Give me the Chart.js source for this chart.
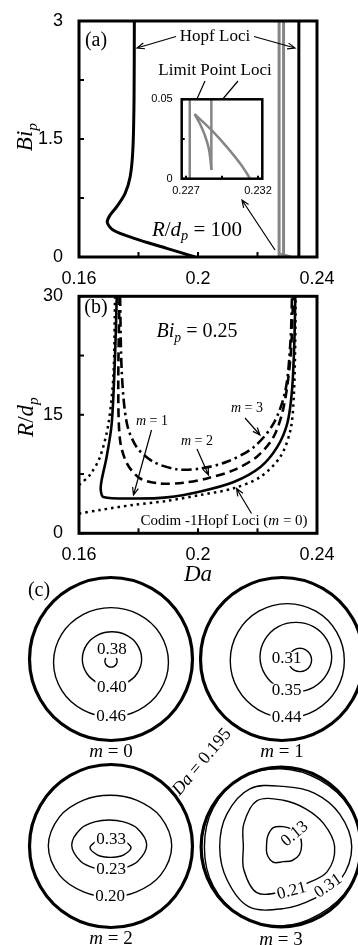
<!DOCTYPE html>
<html>
<head>
<meta charset="utf-8">
<script src="https://cdn.jsdelivr.net/npm/chart.js@4.4.1/dist/chart.umd.min.js"></script>
<style>
  html, body { margin: 0; padding: 0; background: #fff; }
  body { position: relative; width: 358px; height: 945px; overflow: hidden; }
  canvas { position: absolute; }
</style>
</head>
<body>
<canvas id="ca" width="358" height="290" style="left:0;top:0"></canvas>
<canvas id="ci" width="145" height="112" style="left:140px;top:88px"></canvas>
<canvas id="cb" width="358" height="315" style="left:0;top:275px"></canvas>
<canvas id="cc" width="358" height="375" style="left:0;top:570px"></canvas>
<script>
// ---------- data ----------
// (a) Hopf loci at R/dp = 100
const A_HOPF_DA = [0.199, 0.1895, 0.1783, 0.1716, 0.1695, 0.1704, 0.1727, 0.1755, 0.1772, 0.1781, 0.1785, 0.1786];
const A_HOPF_BI = [0, 0.11, 0.24, 0.34, 0.44, 0.53, 0.64, 0.81, 1.02, 1.36, 2.0, 3.0];
const A_HOPF2_DA = [0.2339, 0.2339];
const A_HOPF2_BI = [0, 3];
// (a) limit point loci (grey)
const LP_LEFT_DA = [0.22726, 0.22726];
const LP_LEFT_BI = [0, 3];
const LP_RIGHT_DA = [0.22876, 0.22876];
const LP_RIGHT_BI = [0.0055, 3];
const LP_CUSP_DA = [0.22876, 0.22871, 0.22858, 0.2283, 0.22795, 0.2276];
const LP_CUSP_BI = [0.0055, 0.0107, 0.0191, 0.0275, 0.0349, 0.0406];
const LP_TAIL_DA = [0.2276, 0.22876, 0.22992, 0.23084, 0.23142];
const LP_TAIL_BI = [0.0406, 0.0307, 0.0191, 0.0086, 0.0006];

// (b) Hopf loci at Bi_p = 0.25
const M1_DA = [0.1727, 0.1721, 0.1710, 0.1693, 0.1676, 0.1673, 0.1682, 0.1783, 0.1895, 0.2008, 0.2120, 0.2210, 0.2266, 0.2300, 0.2316, 0.2324, 0.2327];
const M1_R = [30, 22.3, 13.9, 9.7, 6.7, 5.5, 4.6, 4.4, 4.55, 5.3, 6.5, 8.4, 10.9, 13.9, 18.1, 24.4, 30];
const M2_DA = [0.1736, 0.1732, 0.1738, 0.1761, 0.1805, 0.1873, 0.1951, 0.2030, 0.2120, 0.2198, 0.2254, 0.2288, 0.2311, 0.2320];
const M2_R = [30, 18.1, 11.8, 8.85, 6.95, 6.3, 6.4, 6.95, 8.0, 9.7, 12.2, 16.0, 22.3, 30];
const M3_DA = [0.1738, 0.1744, 0.1761, 0.1794, 0.1850, 0.1929, 0.2008, 0.2097, 0.2187, 0.2254, 0.2294, 0.2311, 0.2316];
const M3_R = [30, 20.2, 13.9, 10.9, 9.05, 8.1, 8.2, 9.05, 10.9, 13.9, 18.1, 24.4, 30];
const M0_DA = [0.16, 0.1671, 0.1783, 0.1895, 0.2008, 0.2120, 0.2210, 0.2277, 0.2311, 0.2322, 0.2327, 0.2328];
const M0_R = [2.5, 2.95, 3.6, 4.1, 4.85, 5.7, 7.15, 9.7, 13.1, 17.3, 24.4, 30];
const M0L_DA = [0.16, 0.1637, 0.1671, 0.1699, 0.1716, 0.1721];
const M0L_R = [6.1, 7.4, 9.7, 13.9, 20.2, 30];

// tick values and labels
const A_X_TICKS = [0.16, 0.18, 0.2, 0.22, 0.24];
const A_X_LABELS = ['0.16', '', '0.2', '', '0.24'];
const A_Y_TICKS = [0, 0.75, 1.5, 2.25, 3];
const A_Y_LABELS = ['0', '', '1.5', '', '3'];
const B_Y_TICKS = [0, 7.5, 15, 22.5, 30];
const B_Y_LABELS = ['0', '', '15', '', '30'];
const IN_X_TICKS = [0.227, 0.2295, 0.232];
const IN_X_LABELS = ['0.227', '', '0.232'];
const IN_Y_TICKS = [0, 0.025, 0.05];
const IN_Y_LABELS = ['0', '', '0.05'];

// (c) contours on the cross-section (disc radius = 1)
// each entry: level, centre offset x, y, radius at ANG (null = hidden under label)
const ANG = [0, 30, 60, 90, 120, 150, 180, 210, 240, 270, 300, 330];
const WALL = [1, 1, 1, 1, 1, 1, 1, 1, 1, 1, 1, 1];
const WALL_M3 = [0.98, 0.98, 0.98, 0.98, 0.98, 0.98, 0.98, 0.98, 0.98, 0.98, 0.98, 0.98];
const C_M0 = [
  ['0.46', 0, -0.04, [0.705, 0.696, 0.678, 0.67, 0.678, 0.696, 0.705, 0.696, 0.678, 0.67, 0.678, 0.696]],
  ['0.40', 0.012, 0, [0.364, 0.356, 0.341, 0.334, 0.341, 0.356, 0.364, 0.356, 0.341, 0.334, 0.341, 0.356]],
  ['0.38', 0, -0.025, [0.075, 0.075, null, null, null, 0.075, 0.075, 0.075, 0.075, 0.075, 0.075, 0.075]]
];
const C_M1 = [
  ['0.44', 0.065, -0.02, [0.70, 0.70, 0.70, 0.70, 0.70, 0.70, 0.70, 0.70, 0.70, 0.70, 0.70, 0.70]],
  ['0.35', 0.17, 0.025, [0.44, 0.435, 0.43, 0.425, 0.43, 0.435, 0.44, 0.435, 0.43, 0.425, 0.43, 0.435]],
  ['0.31', 0.22, -0.012, [0.143, 0.143, 0.143, 0.143, 0.143, 0.143, 0.143, 0.143, 0.143, 0.143, 0.143, 0.143]]
];
const C_M2 = [
  ['0.20', -0.012, 0, [0.757, 0.716, 0.650, 0.623, 0.650, 0.716, 0.757, 0.716, 0.650, 0.623, 0.650, 0.716]],
  ['0.23', -0.022, 0.012, [0.46, 0.402, 0.331, 0.307, 0.331, 0.402, 0.46, 0.402, 0.331, 0.307, 0.331, 0.402]],
  ['0.33', -0.006, -0.022, [0.252, 0.182, 0.131, 0.117, 0.131, 0.182, 0.252, 0.182, 0.131, 0.117, 0.131, 0.182]]
];
const C_M3 = [
  ['edge', 0, 0, [0.98, 0.97, 0.95, 0.96, 0.98, 0.96, 0.94, 0.96, 0.98, 0.97, 0.95, 0.97]],
  ['0.31', 0.028, 0.004, [0.84, 0.80, 0.76, 0.74, 0.82, 0.80, 0.78, 0.80, 0.85, 0.76, 0.74, 0.81]],
  ['0.21', 0.028, 0.004, [0.63, 0.57, 0.54, 0.57, 0.65, 0.56, 0.49, 0.56, 0.65, 0.55, 0.53, 0.62]],
  ['0.13', 0.028, 0.025, [0.225, 0.23, 0.22, 0.225, 0.245, 0.22, 0.205, 0.23, 0.245, 0.205, 0.22, 0.23]]
];

// ---------- helpers ----------
const SANS = '"Liberation Sans", Arial, sans-serif';
const SERIF = '"Liberation Serif", "Times New Roman", serif';
const GREY = '#858585';

Chart.defaults.animation = false;
Chart.defaults.responsive = false;
Chart.defaults.devicePixelRatio = 1;
Chart.defaults.plugins.legend.display = false;
Chart.defaults.plugins.tooltip.enabled = false;
Chart.defaults.color = '#000';

const xy = (xs, ys) => xs.map((x, i) => ({x, y: ys[i]}));

function line(xs, ys, color, width, dash, tension) {
  return {data: xy(xs, ys), showLine: true, borderColor: color, borderWidth: width,
    borderDash: dash || [], tension: tension || 0, pointRadius: 0, fill: false};
}

// lh: small line height so the end labels don't push the plot area inwards
function axis(min, max, ticks, labels, pad, size, fit, lh) {
  return {
    type: 'linear', min, max,
    afterBuildTicks: s => { s.ticks = ticks.map(v => ({value: v})); },
    afterFit: fit,
    ticks: {callback: (v, i) => labels[i], font: {family: SANS, size, lineHeight: lh || 1.2}, color: '#000',
      padding: pad, maxRotation: 0, autoSkip: false},
    grid: {display: false, drawTicks: false},
    border: {display: false}
  };
}

// box round the plot plus short inward ticks
function frame(lw, tl) {
  return {
    id: 'frame',
    afterDatasetsDraw(chart) {
      const {ctx, chartArea: a, scales} = chart;
      ctx.save();
      ctx.strokeStyle = '#000';
      ctx.lineWidth = 2;
      scales.x.ticks.forEach(t => {
        const p = scales.x.getPixelForValue(t.value);
        ctx.beginPath(); ctx.moveTo(p, a.bottom); ctx.lineTo(p, a.bottom - tl); ctx.stroke();
      });
      scales.y.ticks.forEach(t => {
        const p = scales.y.getPixelForValue(t.value);
        ctx.beginPath(); ctx.moveTo(a.left, p); ctx.lineTo(a.left + tl, p); ctx.stroke();
      });
      ctx.lineWidth = lw;
      ctx.strokeRect(a.left, a.top, a.width, a.height);
      ctx.restore();
    }
  };
}

function annot(fn) {
  return {id: 'annot', afterDraw: c => fn(c.ctx, c)};
}

// text made of pieces: [text, flags]  i = italic, s = subscript
function drawRich(ctx, x, y, parts, size, o = {}) {
  const fam = o.family || SERIF;
  let w = 0;
  const segs = parts.map(([t, f = '']) => {
    const sub = f.includes('s');
    const font = (f.includes('i') ? 'italic ' : '') + (sub ? size * 0.68 : size) + 'px ' + fam;
    ctx.font = font;
    const sw = ctx.measureText(t).width;
    w += sw;
    return {t, font, sw, dy: sub ? size * 0.32 : 0};
  });
  ctx.save();
  ctx.translate(x, y);
  if (o.rot) ctx.rotate(o.rot);
  let cx = -w / 2;
  if (o.bg) {
    ctx.fillStyle = '#fff';
    ctx.fillRect(cx - 1.5, -size * 0.42, w + 3, size * 0.84);
  }
  ctx.fillStyle = '#000';
  ctx.textBaseline = 'middle';
  ctx.textAlign = 'left';
  segs.forEach(s => { ctx.font = s.font; ctx.fillText(s.t, cx, s.dy); cx += s.sw; });
  ctx.restore();
}

function arrow(ctx, x1, y1, x2, y2) {
  const a = Math.atan2(y2 - y1, x2 - x1), h = 8;
  ctx.save();
  ctx.strokeStyle = '#000';
  ctx.lineWidth = 1.2;
  ctx.beginPath();
  ctx.moveTo(x1, y1); ctx.lineTo(x2, y2);
  ctx.moveTo(x2 - h * Math.cos(a - 0.38), y2 - h * Math.sin(a - 0.38));
  ctx.lineTo(x2, y2);
  ctx.lineTo(x2 - h * Math.cos(a + 0.38), y2 - h * Math.sin(a + 0.38));
  ctx.stroke();
  ctx.restore();
}

// ---------- panel (a) ----------
new Chart('ca', {
  type: 'scatter',
  data: {datasets: [
    line(LP_LEFT_DA, LP_LEFT_BI, GREY, 3),
    line(LP_RIGHT_DA, LP_RIGHT_BI, GREY, 3),
    line(LP_CUSP_DA, LP_CUSP_BI, GREY, 2),
    line(LP_TAIL_DA, LP_TAIL_BI, GREY, 2),
    line(A_HOPF2_DA, A_HOPF2_BI, '#000', 3),
    line(A_HOPF_DA, A_HOPF_BI, '#000', 3, null, 0.3)
  ]},
  options: {
    layout: {padding: {left: 0, top: 21, right: 41, bottom: 0}},
    scales: {
      x: axis(0.16, 0.24, A_X_TICKS, A_X_LABELS, 11, 18, s => { s.height = 33; }),
      y: axis(0, 3, A_Y_TICKS, A_Y_LABELS, 16, 18, s => { s.width = 79; }, 0.5)
    }
  },
  plugins: [frame(3, 5), annot(ctx => {
    drawRich(ctx, 96, 41, [['(a)']], 20);
    drawRich(ctx, 215, 37, [['Hopf Loci']], 17);
    arrow(ctx, 176, 36.5, 137, 48);
    arrow(ctx, 254, 36.5, 295, 48);
    drawRich(ctx, 215, 71, [['Limit Point Loci']], 17);
    arrow(ctx, 205, 81, 192, 110);
    arrow(ctx, 238, 81, 213.5, 110);
    drawRich(ctx, 197, 230, [['R', 'i'], ['/'], ['d', 'i'], ['p', 'is'], [' = 100']], 21);
    arrow(ctx, 275, 250, 242, 200);
    drawRich(ctx, 26, 137, [['B', 'i'], ['i', 'i'], ['p', 'is']], 23, {rot: -Math.PI / 2});
  })]
});

// ---------- inset of (a) ----------
new Chart('ci', {
  type: 'scatter',
  data: {datasets: [
    line(LP_LEFT_DA, LP_LEFT_BI, GREY, 2.5),
    line(LP_RIGHT_DA, LP_RIGHT_BI, GREY, 2.5),
    line(LP_CUSP_DA, LP_CUSP_BI, GREY, 2.5, null, 0.3),
    line(LP_TAIL_DA, LP_TAIL_BI, GREY, 2.5, null, 0.3)
  ]},
  options: {
    layout: {padding: {left: 0, top: 11.3, right: 22.7, bottom: 0}},
    scales: {
      x: axis(0.2267, 0.2323, IN_X_TICKS, IN_X_LABELS, 6, 11, s => { s.height = 21.3; }),
      y: axis(0, 0.05, IN_Y_TICKS, IN_Y_LABELS, 9, 11, s => { s.width = 41.7; }, 0.3)
    }
  },
  plugins: [{
    id: 'whitebg',
    beforeDatasetsDraw(c) {
      const a = c.chartArea;
      c.ctx.save(); c.ctx.fillStyle = '#fff';
      c.ctx.fillRect(a.left, a.top, a.width, a.height);
      c.ctx.restore();
    }
  }, frame(2.5, 3)]
});

// ---------- panel (b) ----------
new Chart('cb', {
  type: 'scatter',
  data: {datasets: [
    line(M0L_DA, M0L_R, '#000', 2.5, [2.5, 4], 0.3),
    line(M0_DA, M0_R, '#000', 2.5, [2.5, 4], 0.3),
    line(M3_DA, M3_R, '#000', 2.6, [10, 4, 2.5, 4], 0.3),
    line(M2_DA, M2_R, '#000', 2.6, [9, 5], 0.3),
    line(M1_DA, M1_R, '#000', 2.6, null, 0.3)
  ]},
  options: {
    layout: {padding: {left: 0, top: 21.3, right: 41, bottom: 0}},
    scales: {
      x: axis(0.16, 0.24, A_X_TICKS, A_X_LABELS, 11, 18, s => { s.height = 56.7; }),
      y: axis(0, 30, B_Y_TICKS, B_Y_LABELS, 16, 18, s => { s.width = 79; }, 0.5)
    }
  },
  plugins: [frame(3, 5), annot(ctx => {
    drawRich(ctx, 96, 33, [['(b)']], 20);
    drawRich(ctx, 197, 57, [['B', 'i'], ['i', 'i'], ['p', 'is'], [' = 0.25']], 20);
    drawRich(ctx, 152, 146.5, [['m', 'i'], [' = 1']], 14);
    arrow(ctx, 151.5, 155, 133.5, 220);
    drawRich(ctx, 197, 166.5, [['m', 'i'], [' = 2']], 14);
    arrow(ctx, 197, 174, 208.5, 200);
    drawRich(ctx, 247, 133, [['m', 'i'], [' = 3']], 14);
    arrow(ctx, 245, 143, 260, 160);
    drawRich(ctx, 224, 246.5, [['Codim -1Hopf Loci ('], ['m', 'i'], [' = 0)']], 15);
    arrow(ctx, 251.5, 238.5, 236.5, 213.5);
    drawRich(ctx, 27, 142, [['R', 'i'], ['/'], ['d', 'i'], ['p', 'is']], 23, {rot: -Math.PI / 2});
    drawRich(ctx, 198, 300, [['Da', 'i']], 23);
  })]
});

// ---------- panel (c) ----------
const RAD = 81.5;
const DISCS = [
  {m: '0', cx: 111, cy: 89, wall: WALL, cont: C_M0,
   labels: [['0.38', 0.01, 0.12, 0], ['0.40', 0.01, -0.345, 0], ['0.46', 0, -0.70, 0]]},
  {m: '1', cx: 282, cy: 89, wall: WALL, cont: C_M1,
   labels: [['0.31', 0.058, 0.0, 0], ['0.35', 0.058, -0.39, 0], ['0.44', 0.058, -0.72, 0]]},
  {m: '2', cx: 111, cy: 276, wall: WALL, cont: C_M2,
   labels: [['0.33', 0, 0.085, 0], ['0.23', 0, -0.29, 0], ['0.20', -0.01, -0.62, 0]]},
  {m: '3', cx: 281, cy: 277, wall: WALL_M3, cont: C_M3,
   labels: [['0.13', 0.17, 0.16, -40], ['0.21', 0.13, -0.54, -15], ['0.31', 0.58, -0.48, -35]]}
];

// closed contour: one extra point at each end gives the spline its neighbours,
// the two extra segments themselves are not drawn
function ring(d, ox, oy, r) {
  const n = ANG.length, pts = [];
  for (let k = -1; k <= n + 1; k++) {
    const i = (k + n) % n, rr = r[i];
    if (rr === null) { pts.push({x: d.cx, y: null}); continue; }
    const t = ANG[i] * Math.PI / 180;
    pts.push({x: d.cx + RAD * (ox + rr * Math.cos(t)), y: d.cy - RAD * (oy + rr * Math.sin(t))});
  }
  return pts;
}

function contourSet(pts, width) {
  const last = pts.length - 1;
  return {data: pts, showLine: true, borderColor: '#000', borderWidth: width,
    tension: 0.35, pointRadius: 0, spanGaps: false, fill: false,
    segment: {borderColor: s => (s.p0DataIndex === 0 || s.p1DataIndex === last) ? 'rgba(0,0,0,0)' : undefined}};
}

const cSets = [];
DISCS.forEach(d => {
  cSets.push(contourSet(ring(d, 0, 0, d.wall), 3.2));
  d.cont.forEach(([, ox, oy, r]) => cSets.push(contourSet(ring(d, ox, oy, r), 1.4)));
});

new Chart('cc', {
  type: 'scatter',
  data: {datasets: cSets},
  options: {
    layout: {padding: 0, autoPadding: false},
    scales: {
      x: {type: 'linear', display: false, min: 0, max: 358},
      y: {type: 'linear', display: false, min: 0, max: 375, reverse: true}
    }
  },
  plugins: [annot((ctx, ch) => {
    const X = v => ch.scales.x.getPixelForValue(v), Y = v => ch.scales.y.getPixelForValue(v);
    DISCS.forEach(d => {
      d.labels.forEach(([t, ux, uy, rot]) => {
        drawRich(ctx, X(d.cx + RAD * ux), Y(d.cy - RAD * uy), [[t]], 17, {bg: true, rot: rot * Math.PI / 180});
      });
      drawRich(ctx, X(d.cx), Y(d.cy + 93), [['m', 'i'], [' = ' + d.m]], 19);
    });
    drawRich(ctx, 39, 21, [['(c)']], 20);
    drawRich(ctx, 202, 192, [['Da', 'i'], [' = 0.195']], 18, {rot: -50 * Math.PI / 180});
  })]
});
</script>
</body>
</html>
